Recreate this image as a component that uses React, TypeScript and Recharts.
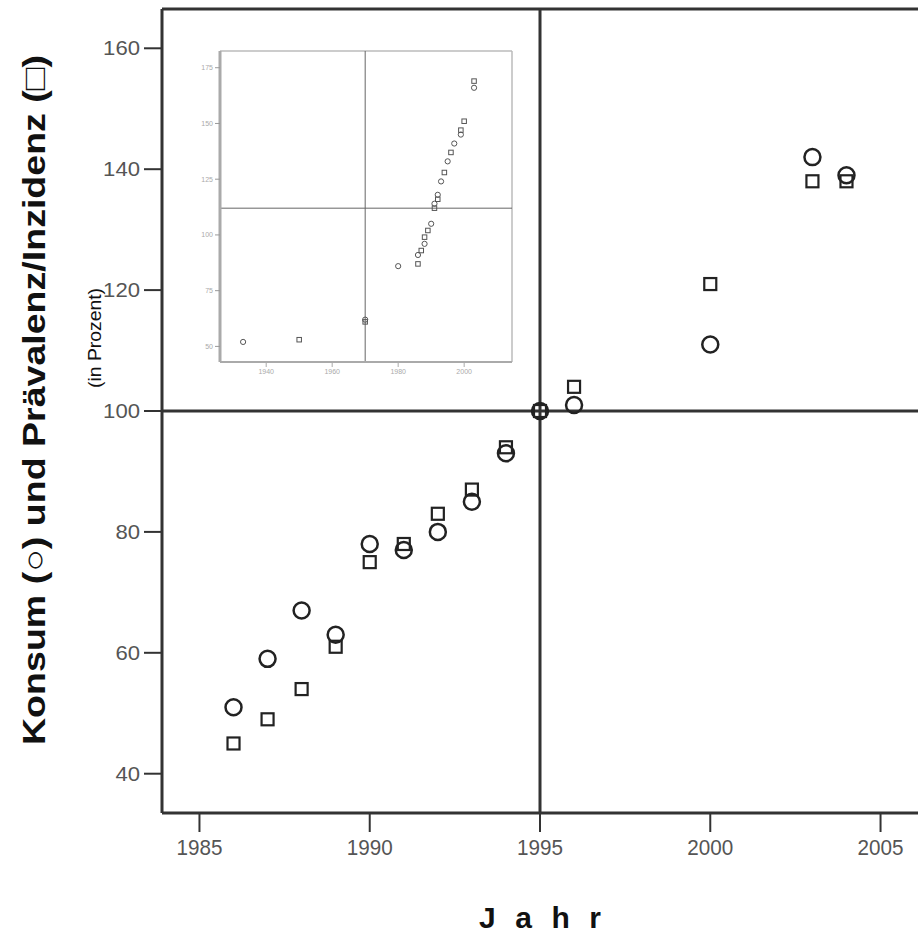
import React from "react";
import { ScatterChart, Scatter, XAxis, YAxis, ReferenceLine } from "recharts";

// main chart data (index 1995 = 100)
const YEARS = [1986, 1987, 1988, 1989, 1990, 1991, 1992, 1993, 1994, 1995, 1996, 2000, 2003, 2004];
const KONSUM = [51, 59, 67, 63, 78, 77, 80, 85, 93, 100, 101, 111, 142, 139];
const PRAEVALENZ = [45, 49, 54, 61, 75, 78, 83, 87, 94, 100, 104, 121, 138, 138];

const X_TICKS = [1985, 1990, 1995, 2000, 2005];
const Y_TICKS = [40, 60, 80, 100, 120, 140, 160];

// inset data
const INSET_K_YEARS = [1933, 1970, 1980, 1986, 1988, 1990, 1991, 1992, 1993, 1995, 1997, 1999, 2003];
const INSET_KONSUM = [52, 62, 86, 91, 96, 105, 114, 118, 124, 133, 141, 145, 166];
const INSET_P_YEARS = [1950, 1970, 1986, 1987, 1988, 1989, 1991, 1992, 1994, 1996, 1999, 2000, 2003];
const INSET_PRAEV = [53, 61, 87, 93, 99, 102, 112, 116, 128, 137, 147, 151, 169];

const INSET_X_TICKS = [1940, 1960, 1980, 2000];
const INSET_Y_TICKS = [50, 75, 100, 125, 150, 175];

const FONT = "'Liberation Sans', Arial, sans-serif";

const konsumData = YEARS.map((x, i) => ({ x, y: KONSUM[i] }));
const praevData = YEARS.map((x, i) => ({ x, y: PRAEVALENZ[i] }));
const insetKonsum = INSET_K_YEARS.map((x, i) => ({ x, y: INSET_KONSUM[i] }));
const insetPraev = INSET_P_YEARS.map((x, i) => ({ x, y: INSET_PRAEV[i] }));

function Ring({ cx = 0, cy = 0, r = 8, sw = 2.5, color = "#222" }: any) {
  return <circle cx={cx} cy={cy} r={r} fill="none" stroke={color} strokeWidth={sw} />;
}

function Box({ cx = 0, cy = 0, s = 12, sw = 2.2, color = "#222" }: any) {
  return (
    <rect x={cx - s / 2} y={cy - s / 2} width={s} height={s} fill="none" stroke={color} strokeWidth={sw} />
  );
}

// narrow-looking tick labels like the original
function XTick({ x, y, payload }: any) {
  return (
    <text
      x={x}
      y={y + 19}
      textAnchor="middle"
      fontFamily={FONT}
      fontSize={22}
      fill="#555"
      textLength={46}
      lengthAdjust="spacingAndGlyphs"
    >
      {payload.value}
    </text>
  );
}

function YTick({ x, y, payload }: any) {
  const s = String(payload.value);
  return (
    <text
      x={x}
      y={y + 7}
      textAnchor="end"
      fontFamily={FONT}
      fontSize={21}
      fill="#555"
      textLength={s.length * 12.3}
      lengthAdjust="spacingAndGlyphs"
    >
      {s}
    </text>
  );
}

function Inset() {
  return (
    <div style={{ position: "absolute", left: 190, top: 40 }}>
      <ScatterChart width={330} height={345} margin={{ top: 11, right: 8, bottom: 5, left: 5 }}>
        <XAxis
          type="number"
          dataKey="x"
          domain={[1926, 2014.5]}
          ticks={INSET_X_TICKS}
          height={18}
          tickSize={5}
          tickMargin={2}
          axisLine={{ stroke: "#aaa", strokeWidth: 2 }}
          tickLine={{ stroke: "#aaa" }}
          tick={{ fill: "#aaa", fontSize: 7, fontFamily: FONT }}
        />
        <YAxis
          type="number"
          dataKey="y"
          domain={[43, 182.5]}
          ticks={INSET_Y_TICKS}
          width={25}
          tickSize={5}
          tickMargin={2}
          axisLine={{ stroke: "#aaa", strokeWidth: 3 }}
          tickLine={{ stroke: "#999" }}
          tick={{ fill: "#aaa", fontSize: 7, fontFamily: FONT }}
        />
        <ReferenceLine y={182.5} stroke="#bbb" strokeWidth={1.5} />
        <ReferenceLine x={2014.5} stroke="#bbb" strokeWidth={1.5} />
        <ReferenceLine x={1970} stroke="#666" strokeWidth={1} />
        <ReferenceLine y={112} stroke="#666" strokeWidth={1} />
        <Scatter
          data={insetKonsum}
          isAnimationActive={false}
          shape={(p: any) => <Ring cx={p.cx} cy={p.cy} r={2.6} sw={1} color="#555" />}
        />
        <Scatter
          data={insetPraev}
          isAnimationActive={false}
          shape={(p: any) => <Box cx={p.cx} cy={p.cy} s={4.5} sw={1} color="#555" />}
        />
      </ScatterChart>
    </div>
  );
}

export default function App() {
  return (
    <div style={{ position: "absolute", left: 0, top: 0, width: 918, height: 943, background: "#fff" }}>
      <ScatterChart width={918} height={943} margin={{ top: 9, right: 0, bottom: 90, left: 102 }}>
        <XAxis
          type="number"
          dataKey="x"
          domain={[1983.9, 2006.1]}
          ticks={X_TICKS}
          height={40}
          tickSize={19}
          tickMargin={4}
          axisLine={{ stroke: "#333", strokeWidth: 3 }}
          tickLine={{ stroke: "#333", strokeWidth: 2 }}
          tick={<XTick />}
        />
        <YAxis
          type="number"
          dataKey="y"
          domain={[33.5, 166.5]}
          ticks={Y_TICKS}
          width={60}
          tickSize={18}
          tickMargin={4}
          axisLine={{ stroke: "#333", strokeWidth: 3 }}
          tickLine={{ stroke: "#333", strokeWidth: 2 }}
          tick={<YTick />}
        />
        <ReferenceLine y={166.5} stroke="#333" strokeWidth={3} />
        <ReferenceLine x={1995} stroke="#333" strokeWidth={3} />
        <ReferenceLine y={100} stroke="#333" strokeWidth={3} />
        <Scatter data={konsumData} isAnimationActive={false} shape={(p: any) => <Ring cx={p.cx} cy={p.cy} />} />
        <Scatter data={praevData} isAnimationActive={false} shape={(p: any) => <Box cx={p.cx} cy={p.cy} />} />
      </ScatterChart>
      <Inset />
      <svg width={918} height={943} style={{ position: "absolute", left: 0, top: 0, pointerEvents: "none" }}>
        <text
          x={34}
          y={400}
          transform="rotate(-90 34 400)"
          textAnchor="middle"
          dominantBaseline="central"
          fontFamily={FONT}
          fontWeight="bold"
          fontSize={32}
          textLength={690}
          lengthAdjust="spacingAndGlyphs"
          fill="#111"
        >
          Konsum (○) und Prävalenz/Inzidenz (□)
        </text>
        <text
          x={94}
          y={338}
          transform="rotate(-90 94 338)"
          textAnchor="middle"
          dominantBaseline="central"
          fontFamily={FONT}
          fontSize={19}
          textLength={100}
          lengthAdjust="spacingAndGlyphs"
          fill="#111"
        >
          (in Prozent)
        </text>
        <text
          x={540}
          y={928}
          textAnchor="middle"
          fontFamily={FONT}
          fontWeight="bold"
          fontSize={30}
          textLength={122}
          lengthAdjust="spacing"
          fill="#111"
        >
          Jahr
        </text>
      </svg>
    </div>
  );
}
